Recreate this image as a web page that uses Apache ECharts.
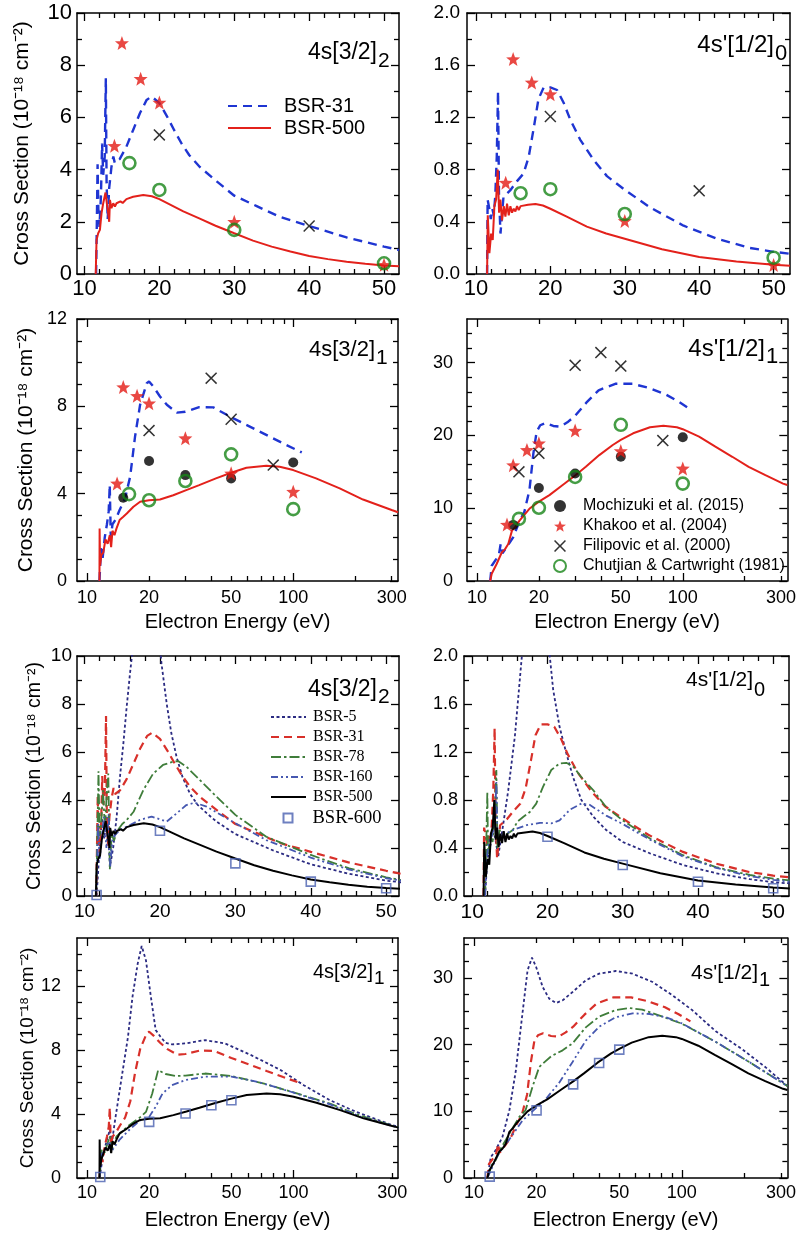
<!DOCTYPE html>
<html><head><meta charset="utf-8">
<script src="https://cdn.jsdelivr.net/npm/echarts@6/dist/echarts.min.js"></script>
<style>html,body{margin:0;padding:0;background:#fff}#c{width:799px;height:1234px}</style>
</head><body><div id="c"></div>
<script>
// ---------- tick labels ----------
const linXMajor = [10, 20, 30, 40, 50];
const linXMinor = [12, 14, 16, 18, 22, 24, 26, 28, 32, 34, 36, 38, 42, 44, 46, 48];
const logXMajor = [10, 100];
const logXMinor = [20, 30, 40, 50, 60, 70, 80, 90, 200, 300];
const logXLabels = [10, 20, 50, 100, 300];
const yTicksA = [0, 2, 4, 6, 8, 10];
const yTicksB = [0, 0.4, 0.8, 1.2, 1.6, 2.0];
const yTicksC = [0, 4, 8, 12];
const yTicksD = [0, 10, 20, 30];
const panelNames = [["4s[3/2]", "2"], ["4s'[1/2]", "0"], ["4s[3/2]", "1"], ["4s'[1/2]", "1"],
                    ["4s[3/2]", "2"], ["4s'[1/2]", "0"], ["4s[3/2]", "1"], ["4s'[1/2]", "1"]];

// ---------- 4s[3/2]2 ----------
const A_bsr31 = [[11.55,0],[11.65,2.0],[11.75,4.2],[11.85,2.5],[12.0,1.8],[12.2,3.0],[12.35,5.0],[12.5,3.8],[12.7,4.5],[12.85,7.5],[12.95,3.5],[13.1,2.1],[13.3,3.3],[13.6,4.1],[13.85,4.5],[14.05,4.25],[14.7,4.4],[15.6,4.88],[16.5,5.52],[17.4,6.16],[18.3,6.67],[18.95,6.8],[20,6.55],[21,6.05],[22,5.5],[23,4.98],[24,4.55],[25.4,4.1],[27.7,3.54],[30,3.0],[33,2.6],[36,2.2],[40,1.84],[45,1.4],[50,1.05],[52,0.92]];
const A_bsr500 = [[11.5,0],[11.61,1.3],[11.83,1.56],[12.06,1.69],[12.28,2.33],[12.5,2.71],[12.81,3.12],[13.04,2.58],[13.17,2.33],[13.3,2.0],[13.4,2.84],[13.6,2.52],[13.84,2.71],[14.06,2.58],[14.28,2.71],[14.5,2.65],[14.8,2.78],[15.1,2.72],[15.6,2.87],[16.5,2.96],[17.85,3.03],[19,2.98],[20,2.87],[21.5,2.65],[23.2,2.4],[25.4,2.12],[27.5,1.85],[30,1.56],[32.5,1.28],[35,1.05],[37.5,0.86],[40,0.69],[42.5,0.57],[45,0.47],[47.5,0.39],[50,0.33],[52,0.3]];
const A_bsr5 = [[11.6,0],[12.0,2.0],[12.3,3.2],[12.6,2.4],[13.0,3.3],[13.38,1.22],[13.82,2.06],[14.26,3.31],[14.7,4.97],[15.15,6.36],[15.59,7.89],[16.03,9.28],[16.5,10.6],[17.2,12.4],[18.0,13.6],[18.8,13.8],[19.5,12.2],[20.2,9.7],[20.9,8.0],[21.5,6.8],[22.2,5.8],[23.0,4.95],[24.0,4.25],[25.0,3.8],[26.2,3.45],[27.5,3.1],[30,2.58],[35,1.9],[40,1.32],[45,0.93],[50,0.64],[52,0.57]];
const A_bsr78 = [[11.55,0],[11.7,2.5],[11.85,5.2],[12.0,2.5],[12.2,3.0],[12.45,4.4],[12.7,2.8],[12.95,4.3],[13.15,5.1],[13.35,1.1],[13.6,2.6],[13.9,2.3],[14.3,2.7],[15.0,3.0],[15.6,3.17],[16.5,3.51],[17.8,4.42],[19.1,5.1],[20.4,5.46],[21.8,5.6],[22.4,5.62],[23.5,5.39],[25.3,4.83],[27.5,4.14],[30,3.38],[34.1,2.47],[40,1.71],[45.1,1.15],[50,0.78],[52,0.66]];
const A_bsr160 = [[11.55,0],[11.8,3.0],[12.0,1.5],[12.3,2.5],[12.6,3.3],[12.9,2.0],[13.2,3.4],[13.4,1.2],[13.7,2.4],[14.2,2.6],[15,2.8],[15.6,2.89],[17.35,3.17],[18.9,3.31],[20.9,3.1],[22.2,3.44],[23.5,3.79],[24.6,3.89],[26.2,3.72],[30,3.03],[34.1,2.33],[40,1.6],[45.1,1.1],[50,0.74],[52,0.64]];
const A_bsr600 = [[11.6,0.04],[20,2.72],[30,1.36],[40,0.6],[50,0.32]];
const A_khakoo = [[14,4.91],[15,8.85],[17.5,7.48],[20,6.57],[30,2.0],[50,0.35]];
const A_filipovic = [[20,5.33],[40,1.84]];
const A_chutjian = [[16,4.25],[20,3.22],[30,1.69],[50,0.41]];

// ---------- 4s'[1/2]0 ----------
const B_bsr31 = [[11.5,0],[11.57,0.57],[11.8,0.5],[12.0,0.42],[12.2,0.5],[12.4,0.45],[12.6,0.6],[12.8,0.9],[12.97,1.4],[13.1,0.6],[13.3,0.31],[13.7,0.59],[14.6,0.64],[15.5,0.71],[16.4,0.77],[17.1,0.9],[17.8,1.13],[18.4,1.34],[19.1,1.43],[20,1.43],[20.9,1.41],[21.8,1.31],[22.7,1.18],[24,1.03],[25.8,0.875],[27.6,0.75],[30,0.645],[33.4,0.51],[37.9,0.37],[42.4,0.27],[46.8,0.2],[50,0.17],[52.2,0.155]];
const B_bsr500 = [[11.5,0],[11.59,0.45],[11.81,0.16],[12.04,0.31],[12.26,0.26],[12.48,0.52],[12.71,0.57],[12.93,0.8],[13.11,0.47],[13.29,0.57],[13.51,0.41],[13.74,0.52],[13.96,0.44],[14.18,0.54],[14.41,0.45],[14.63,0.52],[14.85,0.47],[15.08,0.5],[15.3,0.48],[15.53,0.52],[15.75,0.49],[16,0.52],[17,0.53],[18,0.537],[19,0.525],[20,0.5],[22.2,0.44],[24.9,0.363],[27.5,0.31],[30,0.27],[35,0.19],[40,0.13],[45,0.095],[50,0.07],[52.2,0.063]];
const B_bsr5 = [[11.7,0],[12.0,0.3],[12.5,0.45],[13.0,0.5],[13.45,0.33],[14.0,0.55],[14.78,0.88],[15.66,1.33],[16.55,1.97],[17.5,2.6],[18.5,2.9],[19.5,2.55],[20.3,2.0],[20.75,1.72],[21.6,1.41],[22.5,1.19],[23.4,0.99],[24.5,0.8],[26.1,0.66],[27.8,0.55],[30,0.45],[33.6,0.356],[38,0.258],[42.4,0.19],[46.9,0.14],[50,0.115],[52.2,0.105]];
const B_bsr78 = [[11.7,0],[11.85,0.4],[12.0,0.87],[12.1,0.35],[12.4,0.5],[12.7,0.45],[13.0,0.7],[13.2,1.05],[13.35,0.4],[13.6,0.55],[14.2,0.5],[15.4,0.55],[16.0,0.62],[16.8,0.66],[17.65,0.7],[18.5,0.77],[19.4,0.91],[20.5,1.05],[21.6,1.105],[22.5,1.11],[23.4,1.08],[24.5,0.99],[26.1,0.88],[27.8,0.74],[30,0.63],[33.6,0.48],[38,0.34],[42.4,0.24],[46.9,0.175],[50,0.145],[52.2,0.13]];
const B_bsr160 = [[11.7,0],[11.9,0.3],[12.2,0.45],[12.6,0.5],[13.0,0.6],[13.2,0.95],[13.35,0.45],[13.7,0.5],[14.5,0.52],[15.4,0.55],[17.2,0.59],[19,0.61],[20.5,0.605],[21.6,0.63],[23,0.72],[24.5,0.77],[25.6,0.76],[27.8,0.67],[30,0.6],[33.6,0.47],[38,0.33],[42.4,0.235],[46.9,0.165],[50,0.135],[52.2,0.12]];
const B_bsr600 = [[20,0.494],[30,0.258],[40,0.119],[50,0.064]];
const B_khakoo = [[14,0.70],[15,1.647],[17.5,1.468],[20,1.378],[30,0.407],[50,0.069]];
const B_filipovic = [[20,1.207],[40,0.637]];
const B_chutjian = [[16,0.619],[20,0.65],[30,0.46],[50,0.125]];

// ---------- 4s[3/2]1 ----------
const C_bsr31 = [[11.5,0],[11.7,1.5],[11.9,1.0],[12.2,2.0],[12.5,2.6],[12.75,3.2],[12.9,4.4],[13.05,2.0],[13.3,2.6],[13.75,2.8],[14.4,3.25],[15.3,3.78],[16.2,4.78],[17.1,6.6],[18.1,8.07],[19.5,9.06],[20,9.14],[21,8.9],[22.6,8.45],[24.4,8.07],[27.3,7.71],[30,7.75],[35,7.96],[41,7.95],[50,7.5],[61.6,7.07],[74,6.69],[89,6.31],[110,5.89]];
const C_bsr500 = [[11.5,0],[11.52,2.4],[11.58,0.7],[11.75,1.2],[12.0,1.3],[12.3,1.9],[12.6,1.7],[12.9,2.1],[13.1,1.55],[13.3,2.3],[13.6,2.1],[13.9,2.4],[14.4,2.79],[15,2.94],[15.6,3.09],[16.8,3.4],[18.1,3.63],[20,3.7],[22.6,3.73],[26.2,3.93],[30.3,4.16],[35,4.39],[42.2,4.7],[50,4.96],[59.3,5.19],[74,5.28],[86,5.23],[100,5.08],[129,4.7],[168,4.24],[218,3.73],[300,3.25],[322,3.15]];
const C_bsr5 = [[11.5,0],[12.0,1.5],[12.5,2.4],[12.9,3.0],[13.2,2.2],[13.6,3.4],[14.4,5.49],[15.8,8.83],[16.6,11.3],[17.6,13.4],[18.4,14.5],[19.3,13.6],[20.4,11.3],[21.5,9.25],[22.7,8.83],[24.0,8.45],[25.8,8.35],[29.9,8.41],[37.3,8.62],[46.5,8.41],[62.3,7.68],[86.7,6.74],[112,5.8],[150,4.86],[201,4.13],[301,3.3],[322,3.2]];
const C_bsr78 = [[11.5,0],[11.8,1.8],[12.2,1.6],[12.6,2.2],[12.9,2.6],[13.2,1.8],[13.9,2.6],[16,3.3],[18.1,3.8],[19.3,4.13],[20.7,5.28],[22.1,6.74],[24,6.5],[26.8,6.37],[30,6.4],[37.3,6.53],[50,6.37],[72,5.9],[100,5.35],[150,4.65],[200,4.0],[300,3.27],[322,3.17]];
const C_bsr160 = [[11.5,0],[11.8,1.5],[12.3,1.8],[12.8,2.3],[13.2,1.7],[14.4,2.4],[16,3.0],[18.1,3.61],[20,3.82],[21.5,4.45],[23.2,5.28],[25.8,5.8],[30,6.12],[37.3,6.33],[50,6.33],[67,6.01],[97,5.39],[150,4.6],[209,3.85],[300,3.25],[322,3.15]];
const C_bsr600 = [[11.6,0.06],[20,3.51],[30,4.03],[40,4.55],[50,4.86]];
const C_mochizuki = [[15,3.81],[20,5.5],[30,4.85],[50,4.7],[100,5.43]];
const C_khakoo = [[14,4.47],[15,8.88],[17.5,8.48],[20,8.14],[30,6.54],[50,4.93],[100,4.09]];
const C_filipovic = [[20,6.89],[40,9.29],[50,7.41],[80,5.31]];
const C_chutjian = [[16,3.98],[20,3.7],[30,4.58],[50,5.8],[100,3.29]];

// ---------- 4s'[1/2]1 ----------
const D_bsr31 = [[11.6,0],[11.8,2.1],[12.4,3.0],[12.8,3.7],[13.05,5.1],[13.3,3.8],[13.9,4.6],[15,6.0],[16,8.0],[17,9.5],[18,12.5],[18.8,17.5],[19.5,20.5],[20.3,21.4],[21.5,21.7],[23.5,21.3],[25.5,21.2],[27.5,21.8],[30,22.7],[34,24.5],[39,26.2],[47,27.1],[57,27.1],[69,26.5],[83,25.6],[96,24.6],[110,23.5]];
const D_bsr500 = [[11.6,0],[11.8,1.0],[12.45,2.3],[13.2,3.92],[13.7,4.38],[14.2,5.08],[14.8,6.92],[15.3,7.38],[16.1,8.3],[18.1,10.0],[20,10.9],[22.5,11.8],[26.1,13.2],[30,14.5],[33.8,15.69],[39.3,17.3],[45.7,18.69],[50,19.38],[57.4,20.3],[69.3,21.13],[80.5,21.32],[93.6,21.13],[100,20.86],[120,19.84],[144,18.46],[174,17.07],[209,15.69],[252,14.54],[307,13.38],[322,13.2]];
const D_bsr5 = [[11.6,0],[12.05,3.15],[12.7,4.15],[13.7,6.15],[14.8,10.15],[15.9,16.15],[17.1,24.65],[18.1,31.15],[19.0,33.05],[19.9,31.65],[21.4,28.65],[23.0,26.9],[24.8,26.25],[26.7,26.65],[29.8,27.9],[34.5,29.65],[40,30.65],[48.1,31.05],[57.9,30.65],[72.3,29.4],[90.2,27.4],[112.5,25.15],[145.6,22.0],[195.5,19.3],[253,16.6],[322,13.8]];
const D_bsr78 = [[11.6,0],[12.2,2.0],[12.7,2.65],[13.5,4.5],[14.8,6.65],[16.5,9.15],[17.7,10.15],[19.1,13.65],[20.6,16.65],[21.4,17.15],[23.6,18.3],[26.7,19.15],[29.8,20.2],[34.5,22.6],[40,24.2],[48.1,25.2],[55.7,25.5],[64.4,25.25],[77.5,24.4],[100,23.15],[146,20.4],[211,17.4],[322,13.8]];
const D_bsr160 = [[11.6,0],[12.2,1.5],[12.8,3.0],[13.5,4.2],[14.8,5.8],[17.1,8.6],[19.1,10.0],[22.1,11.8],[25.7,14.3],[29.8,17.4],[34.5,20.6],[40,22.7],[48,24.1],[58,24.7],[70,24.6],[84,24.1],[100,23.2],[146,20.4],[211,17.4],[322,13.8]];
const D_bsr600 = [[11.9,0.2],[20,10.15],[30,14.05],[40,17.25],[50,19.25]];
const D_mochizuki = [[15,7.71],[20,12.78],[30,14.77],[50,17.07],[100,19.75]];
const D_khakoo = [[14,7.75],[15,15.92],[17.5,18.0],[20,18.92],[30,20.67],[50,17.86],[100,15.46]];
const D_filipovic = [[16,15.0],[20,17.54],[30,29.63],[40,31.38],[50,29.53],[80,19.29]];
const D_chutjian = [[16,8.54],[20,10.06],[30,14.3],[50,21.46],[100,13.38]];

// ---------- styling / layout ----------
const FONT = '"Liberation Sans", Arial, Helvetica, sans-serif';
const SERIF = '"Liberation Serif", "Times New Roman", serif';
const YTITLE = 'Cross Section (10\u207B\u00B9\u2078 cm\u207B\u00B2)';
const XTITLE = 'Electron Energy (eV)';

const layout = [
  {left:77, top:13, width:322, height:261, log:false, xMin:9, xMax:52, yMax:10, yTicks:yTicksA, yStep:1, yMaj:2, yDec:0, xFs:22, yFs:22, xM:4, yM:5, yTitle:true, tGap:44, tFs:21, xName:false, lab:[377,53,23,61,21]},
  {left:467, top:13, width:323, height:261, log:false, xMin:8.8, xMax:52.2, yMax:2, yTicks:yTicksB, yStep:0.2, yMaj:0.4, yDec:1, xFs:22, yFs:19, xM:4, yM:7, yTitle:false, xName:false, lab:[774,45,24,54,22]},
  {left:77, top:319, width:321, height:262, log:true, xMin:8.95, xMax:322, yMax:12, yTicks:yTicksC, yStep:1, yMaj:4, yDec:0, xFs:18, yFs:18, xM:8, yM:10, yTitle:true, tGap:40, tFs:21, xName:true, nGap:31, lab:[375,350,22,358,21]},
  {left:467, top:319, width:322, height:262, log:true, xMin:8.95, xMax:322, yMax:36, yTicks:yTicksD, yStep:2, yMaj:10, yDec:0, xFs:18, yFs:18, xM:8, yM:14, yTitle:false, xName:true, nGap:31, lab:[765,349,24,357,22]},
  {left:77, top:656, width:322, height:240, log:false, xMin:9, xMax:51.7, yMax:10, yTicks:yTicksA, yStep:1, yMaj:2, yDec:0, xFs:19, yFs:19, xM:6, yM:5, yTitle:true, tGap:32, tFs:19.5, xName:false, lab:[377,690,23,697,21]},
  {left:464, top:656, width:325, height:240, log:false, xMin:8.9, xMax:52.1, yMax:2, yTicks:yTicksB, yStep:0.2, yMaj:0.4, yDec:1, xFs:21, yFs:18, xM:6, yM:6, yTitle:false, xName:false, lab:[753,680,21,690,20]},
  {left:77, top:938, width:321, height:240, log:true, xMin:8.95, xMax:320, yMax:15, yTicks:yTicksC, yStep:1, yMaj:4, yDec:0, xFs:18, yFs:18, xM:6, yM:16, yTitle:true, tGap:36, tFs:19, xName:true, nGap:32, lab:[373,972,20,979,19]},
  {left:464, top:938, width:325, height:240, log:true, xMin:8.95, xMax:322, yMax:36, yTicks:yTicksD, yStep:2.5, yMaj:10, yDec:0, xFs:18, yFs:18, xM:6, yM:11, yTitle:false, xName:true, nGap:32, lab:[758,973,21,980,20]}
];

const STAR = 'path://M12,1 L14.9,8.6 L23,8.9 L16.6,13.9 L18.8,21.8 L12,17.3 L5.2,21.8 L7.4,13.9 L1,8.9 L9.1,8.6 Z';
const CROSS = 'path://M1.8,0 L10,8.2 L18.2,0 L20,1.8 L11.8,10 L20,18.2 L18.2,20 L10,11.8 L1.8,20 L0,18.2 L8.2,10 L0,1.8 Z';

function minorVals(max, step, maj) {
  const out = [];
  for (let k = 1; k * step < max - 1e-9; k++) {
    const v = +(k * step).toFixed(6);
    const r = v / maj;
    if (Math.abs(r - Math.round(r)) > 1e-6) out.push(v);
  }
  return out;
}

const grids = [], xAxes = [], yAxes = [], series = [], graphics = [];
const axisLineStyle = {color:'#000', width:1.5};
const tickStyle = {color:'#000', width:1.3};

layout.forEach((p, pi) => {
  grids.push({left:p.left, top:p.top, width:p.width, height:p.height, show:false});
  const tx = v => p.log ? Math.log10(v) : v;
  const xmin = tx(p.xMin), xmax = tx(p.xMax);
  const majT = (p.log ? logXMajor : linXMajor).map(tx);
  const minT = (p.log ? logXMinor : linXMinor).map(tx);
  const labs = (p.log ? logXLabels : linXMajor).map(tx);
  const xfmt = v => String(Math.round(p.log ? Math.pow(10, v) : v));
  const xb = {gridIndex:pi, type:'value', min:xmin, max:xmax, splitLine:{show:false}, silent:true};
  xAxes.push(Object.assign({}, xb, {position:'bottom',
    axisLine:{show:true, onZero:false, lineStyle:axisLineStyle},
    axisTick:{show:true, inside:true, length:8, customValues:majT, lineStyle:tickStyle},
    axisLabel:{show:true, customValues:labs, formatter:xfmt, margin:p.xM, fontSize:p.xFs, color:'#000', fontFamily:FONT},
    name: p.xName ? XTITLE : '', nameLocation:'middle', nameGap:p.nGap || 30,
    nameTextStyle:{fontSize:20, color:'#000', fontFamily:FONT}}));
  xAxes.push(Object.assign({}, xb, {position:'bottom', axisLine:{show:false, onZero:false},
    axisTick:{show:true, inside:true, length:5, customValues:minT, lineStyle:tickStyle}, axisLabel:{show:false}}));
  xAxes.push(Object.assign({}, xb, {position:'top',
    axisLine:{show:true, onZero:false, lineStyle:axisLineStyle},
    axisTick:{show:true, inside:true, length:8, customValues:majT, lineStyle:tickStyle}, axisLabel:{show:false}}));
  xAxes.push(Object.assign({}, xb, {position:'top', axisLine:{show:false, onZero:false},
    axisTick:{show:true, inside:true, length:5, customValues:minT, lineStyle:tickStyle}, axisLabel:{show:false}}));

  const yMinorT = minorVals(p.yMax, p.yStep, p.yMaj);
  const yb = {gridIndex:pi, type:'value', min:0, max:p.yMax, splitLine:{show:false}, silent:true};
  yAxes.push(Object.assign({}, yb, {position:'left',
    axisLine:{show:true, onZero:false, lineStyle:axisLineStyle},
    axisTick:{show:true, inside:true, length:8, customValues:p.yTicks, lineStyle:tickStyle},
    axisLabel:{show:true, customValues:p.yTicks, formatter:v => Number(v).toFixed(p.yDec), margin:p.yM, fontSize:p.yFs, color:'#000', fontFamily:FONT},
    name: p.yTitle ? YTITLE : '', nameLocation:'middle', nameGap:p.tGap || 40,
    nameTextStyle:{fontSize:p.tFs || 20, color:'#000', fontFamily:FONT}}));
  yAxes.push(Object.assign({}, yb, {position:'left', axisLine:{show:false, onZero:false},
    axisTick:{show:true, inside:true, length:5, customValues:yMinorT, lineStyle:tickStyle}, axisLabel:{show:false}}));
  yAxes.push(Object.assign({}, yb, {position:'right',
    axisLine:{show:true, onZero:false, lineStyle:axisLineStyle},
    axisTick:{show:true, inside:true, length:8, customValues:p.yTicks, lineStyle:tickStyle}, axisLabel:{show:false}}));
  yAxes.push(Object.assign({}, yb, {position:'right', axisLine:{show:false, onZero:false},
    axisTick:{show:true, inside:true, length:5, customValues:yMinorT, lineStyle:tickStyle}, axisLabel:{show:false}}));

  // panel label with subscript
  const [mx, my, mfs, sy, sfs] = p.lab;
  graphics.push({type:'text', x:mx, y:my, silent:true, style:{text:panelNames[pi][0], fontSize:mfs, fontFamily:FONT, fill:'#000', align:'right', verticalAlign:'middle'}});
  graphics.push({type:'text', x:mx + 1, y:sy, silent:true, style:{text:panelNames[pi][1], fontSize:sfs, fontFamily:FONT, fill:'#000', align:'left', verticalAlign:'middle'}});
});

function conv(pi, pts) {
  const lg = layout[pi].log;
  return pts.map(d => [lg ? Math.log10(d[0]) : d[0], d[1]]);
}
function addLine(pi, name, pts, color, width, dash, z) {
  series.push({type:'line', name, xAxisIndex:pi * 4, yAxisIndex:pi * 4, data:conv(pi, pts),
    symbol:'none', showSymbol:false, clip:true, silent:true, z:z || 2,
    lineStyle:{color, width, type:dash}, itemStyle:{color}});
}
function addScatter(pi, name, pts, symbol, size, itemStyle) {
  series.push({type:'scatter', name, xAxisIndex:pi * 4, yAxisIndex:pi * 4, data:conv(pi, pts),
    symbol, symbolSize:size, itemStyle, silent:true, z:5, clip:false});
}

const C_BLUE = '#1f35d2', C_RED = '#e3211b', C_GREEN = '#168516';
const N_MOCH = 'Mochizuki et al. (2015)', N_KHAK = 'Khakoo et al. (2004)', N_FILI = 'Filipovic et al. (2000)', N_CHUT = 'Chutjian & Cartwright (1981)';
const st = {
  moch: ['circle', 10, {color:'#000'}],
  khak: [STAR, 14, {color:'#e41a14'}],
  fili: [CROSS, 12, {color:'#000'}],
  chut: ['circle', 12, {color:'rgba(0,0,0,0)', borderColor:C_GREEN, borderWidth:2.6}]
};
const topSets = [
  {b31:A_bsr31, b500:A_bsr500, moch:null, khak:A_khakoo, fili:A_filipovic, chut:A_chutjian},
  {b31:B_bsr31, b500:B_bsr500, moch:null, khak:B_khakoo, fili:B_filipovic, chut:B_chutjian},
  {b31:C_bsr31, b500:C_bsr500, moch:C_mochizuki, khak:C_khakoo, fili:C_filipovic, chut:C_chutjian},
  {b31:D_bsr31, b500:D_bsr500, moch:D_mochizuki, khak:D_khakoo, fili:D_filipovic, chut:D_chutjian}
];
topSets.forEach((s, pi) => {
  addLine(pi, 'BSR-31', s.b31, C_BLUE, 2.4, [9, 6]);
  addLine(pi, 'BSR-500', s.b500, C_RED, 2, 'solid', 3);
  if (s.moch) addScatter(pi, N_MOCH, s.moch, ...st.moch);
  addScatter(pi, N_KHAK, s.khak, ...st.khak);
  addScatter(pi, N_FILI, s.fili, ...st.fili);
  addScatter(pi, N_CHUT, s.chut, ...st.chut);
});
const lowSets = [
  {b5:A_bsr5, b31:A_bsr31, b78:A_bsr78, b160:A_bsr160, b500:A_bsr500, b600:A_bsr600},
  {b5:B_bsr5, b31:B_bsr31, b78:B_bsr78, b160:B_bsr160, b500:B_bsr500, b600:B_bsr600},
  {b5:C_bsr5, b31:C_bsr31, b78:C_bsr78, b160:C_bsr160, b500:C_bsr500, b600:C_bsr600},
  {b5:D_bsr5, b31:D_bsr31, b78:D_bsr78, b160:D_bsr160, b500:D_bsr500, b600:D_bsr600}
];
lowSets.forEach((s, k) => {
  const pi = k + 4;
  addLine(pi, 'BSR-5', s.b5, '#2b2b82', 1.8, [3, 2.5]);
  addLine(pi, 'BSR-31 (c)', s.b31, '#d8302a', 2.2, [8, 5]);
  addLine(pi, 'BSR-78', s.b78, '#3f7d3a', 1.8, [10, 3, 2.5, 3]);
  addLine(pi, 'BSR-160', s.b160, '#4658b0', 1.8, [7, 3, 2, 3, 2, 3]);
  addLine(pi, 'BSR-500 (c)', s.b500, '#000000', 2, 'solid', 3);
  addScatter(pi, 'BSR-600', s.b600, 'rect', 9, {color:'rgba(255,255,255,0)', borderColor:'#4a60b0', borderWidth:1.6});
});

const legends = [
  {data:['BSR-31', 'BSR-500'], left:227, top:95, itemWidth:43, itemHeight:14, itemStyle:{opacity:0},
   textStyle:{fontSize:20, lineHeight:22, fontFamily:FONT, color:'#000', padding:[0,0,0,8]}},
  {data:['BSR-5', 'BSR-31 (c)', 'BSR-78', 'BSR-160', 'BSR-500 (c)'], left:270, top:707, itemWidth:35, itemHeight:12, itemStyle:{opacity:0},
   formatter: n => n.replace(' (c)', ''),
   textStyle:{fontSize:16, lineHeight:20, fontFamily:SERIF, color:'#000', padding:[0,0,0,2]}},
  {data:['BSR-600'], left:282.5, top:807, itemWidth:9, itemHeight:9,
   textStyle:{fontSize:18.5, lineHeight:22, fontFamily:SERIF, color:'#000', padding:[0,0,0,15]}},
  {data:[N_MOCH, N_KHAK, N_FILI, N_CHUT], left:553, top:496, itemWidth:12, itemHeight:12,
   textStyle:{fontSize:16, lineHeight:20, fontFamily:FONT, color:'#000', padding:[0,0,0,12]}}
].map(l => Object.assign({orient:'vertical', itemGap:0, padding:0, selectedMode:false}, l));

const chart = echarts.init(document.getElementById('c'), null, {renderer:'canvas'});
chart.setOption({
  animation:false,
  backgroundColor:'#ffffff',
  grid:grids, xAxis:xAxes, yAxis:yAxes, series, legend:legends,
  graphic:{elements:graphics}
});
</script></body></html>
